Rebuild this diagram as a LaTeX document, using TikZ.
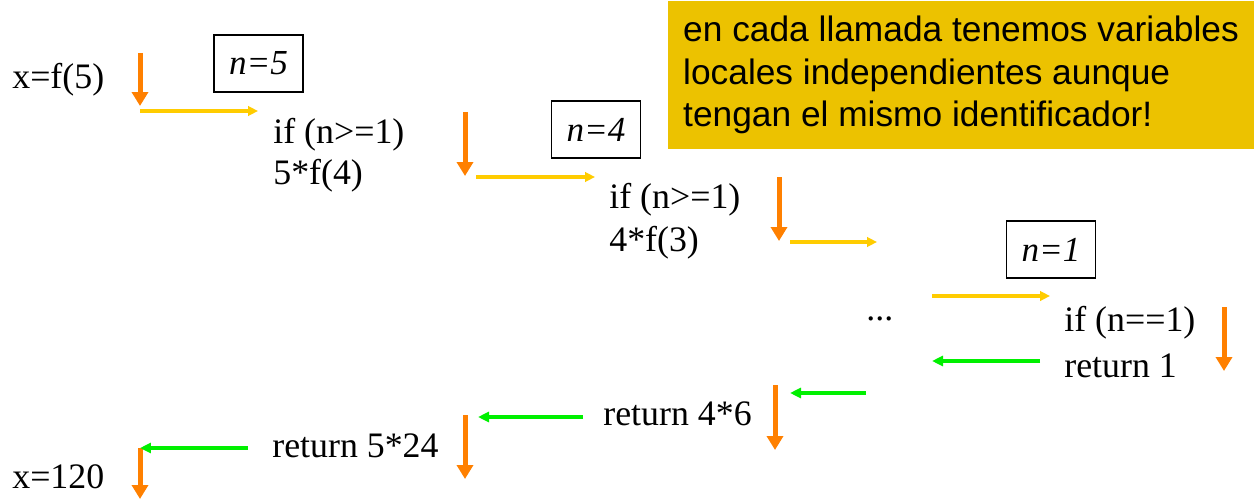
\documentclass[tikz,border=0pt]{standalone}
\usepackage{fontspec}
\setmainfont{Liberation Serif}
\newfontfamily\notefont{Liberation Sans}
\usetikzlibrary{arrows.meta}

\definecolor{callorange}{RGB}{255,128,0}
\definecolor{callyellow}{RGB}{255,204,0}
\definecolor{retgreen}{RGB}{0,240,0}
\definecolor{notegold}{RGB}{236,194,0}

\begin{document}
\begin{tikzpicture}[x=0.02cm,y=-0.02cm,
    code/.style={anchor=base west, inner sep=0pt, font=\fontsize{20.4}{24}\selectfont},
    varbox/.style={draw, line width=1pt, minimum width=1.78cm, minimum height=1.14cm,
      inner sep=0pt, font=\fontsize{20}{24}\selectfont\itshape},
    down/.style={callorange, line width=0.1cm, -{Triangle[length=0.28cm,width=0.32cm]}},
    call/.style={callyellow, line width=0.075cm, -{Triangle[length=0.2cm,width=0.19cm]}},
    back/.style={retgreen, line width=0.08cm, -{Triangle[length=0.22cm,width=0.2cm]}}]

  \useasboundingbox (0,0) rectangle (1254,500);

  % Note
  \node[fill=notegold, minimum width=11.72cm, minimum height=2.96cm, inner sep=0pt,
    align=left, font=\notefont\fontsize{20.1}{24.4}\selectfont] (note) at (961,75)
    {en cada llamada tenemos variables\\locales independientes aunque\\tengan el mismo identificador!};

  % Code lines
  \node[code] (main) at (12,89) {x=f(5)};
  \node[code] (if5) at (273,143) {if (n>=1)};
  \node[code] (rec5) at (273,184) {5*f(4)};
  \node[code] (if4) at (609,208) {if (n>=1)};
  \node[code] (rec4) at (609,251) {4*f(3)};
  \node[code] (dots) at (866,320) {...};
  \node[code] (if1) at (1064,331) {if (n==1)};
  \node[code] (ret1) at (1064,377) {return 1};
  \node[code] (ret4) at (603,425) {return 4*6};
  \node[code] (ret5) at (272,457) {return 5*24};
  \node[code] (res) at (12,488) {x=120};

  % Local variables
  \node[varbox] (n5) at (258.5,63.5) {n=5};
  \node[varbox] (n4) at (596,129.5) {n=4};
  \node[varbox] (n1) at (1051,249.5) {n=1};

  % Flow downwards
  \foreach \nm/\x/\ya/\yb in {d1/140/53/106, d2/465/112/176, d3/779/177/241,
      d4/1224/307/371, d5/775/385/450, d6/465/415/479, d7/140/448/499} {
    \coordinate (\nm s) at (\x,\ya);
    \coordinate (\nm e) at (\x,\yb);
    \draw[down] (\nm s) -- (\nm e);
  }

  % Calls
  \foreach \nm/\y/\xa/\xb in {c1/111/140/258, c2/177/476/595, c3/242/790/877, c4/296/932/1050} {
    \coordinate (\nm s) at (\xa,\y);
    \coordinate (\nm e) at (\xb,\y);
    \draw[call] (\nm s) -- (\nm e);
  }

  % Returns
  \foreach \nm/\y/\xa/\xb in {r1/361/1040/932, r2/393/866/790, r3/417/583/478, r4/448/248/140} {
    \coordinate (\nm s) at (\xa,\y);
    \coordinate (\nm e) at (\xb,\y);
    \draw[back] (\nm s) -- (\nm e);
  }

\end{tikzpicture}
\end{document}
